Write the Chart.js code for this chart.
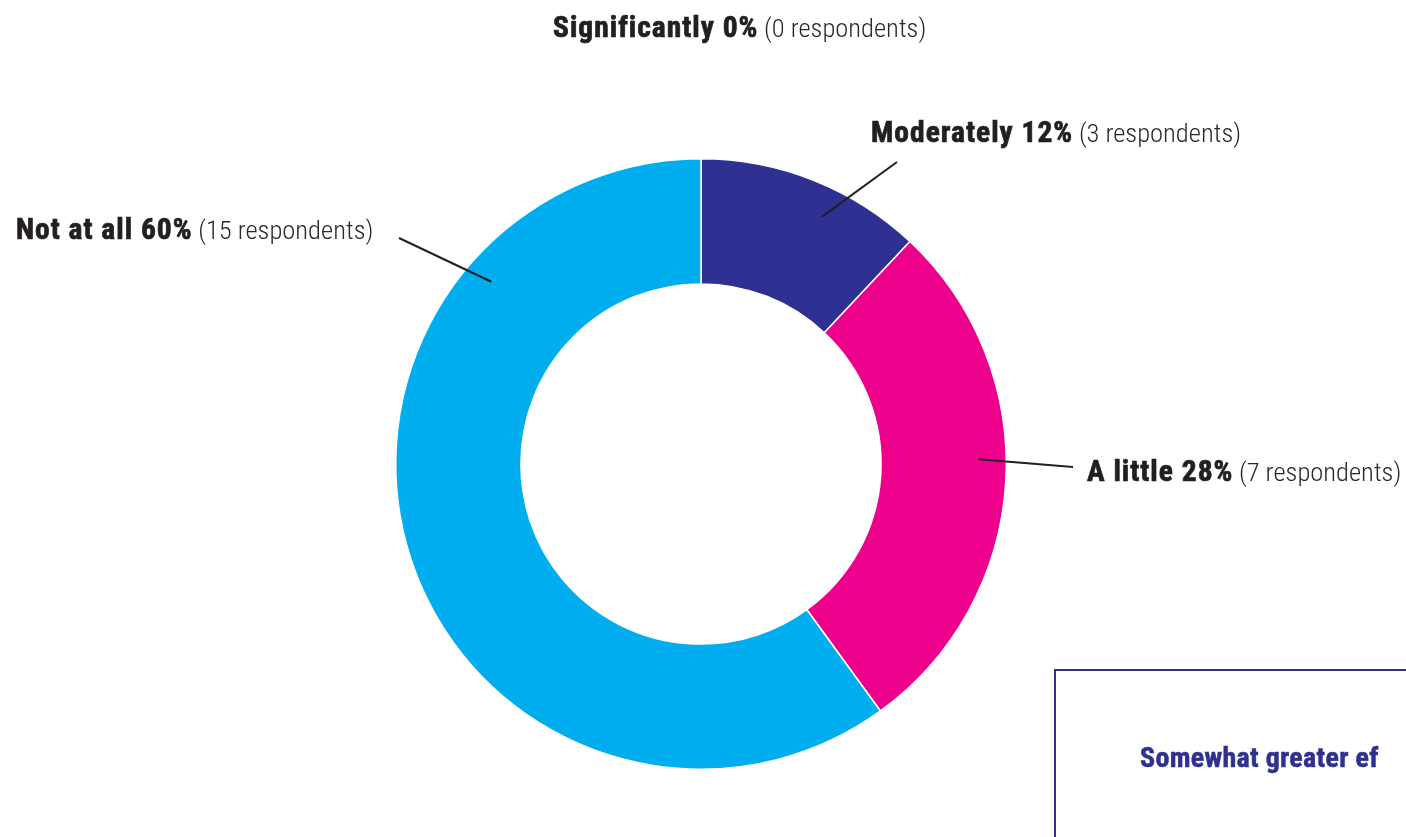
<!DOCTYPE html>
<html>
<head>
<meta charset="utf-8">
<script src="https://cdn.jsdelivr.net/npm/chart.js@4.4.0/dist/chart.umd.min.js"></script>
<style>
  html, body { margin: 0; padding: 0; background: #ffffff; }
  #wrap { position: relative; width: 1406px; height: 837px; overflow: hidden; }
  canvas { position: absolute; left: 0; top: 0; }
  .lbl { position: absolute; white-space: nowrap; color: #231F20;
         font-family: "Roboto Condensed", "Liberation Sans Narrow", "DejaVu Sans Condensed", "Liberation Sans", sans-serif;
         line-height: 1; font-size: 16px; }
  .lbl b { font-weight: 700; font-size: 29.5px; letter-spacing: 1px; -webkit-text-stroke: 0.7px #231F20; }
  .lbl span { font-weight: 300; font-size: 26.5px; color: #2b2728; margin-left: 2px; }
  #box { position: absolute; left: 1054px; top: 669px; width: 500px; height: 300px;
         border: 2px solid #2E3192; box-sizing: border-box; }
  #boxText { position: absolute; left: 1140px; top: 744px; white-space: nowrap; color: #2E3192;
         font-family: "Roboto Condensed", "Liberation Sans Narrow", "DejaVu Sans Condensed", "Liberation Sans", sans-serif;
         font-size: 28px; font-weight: 700; line-height: 1; letter-spacing: 0.3px; -webkit-text-stroke: 0.5px #2E3192; }
</style>
</head>
<body>
<div id="wrap">
  <canvas id="c" width="1406" height="837"></canvas>
  <div id="box"></div>
  <div id="boxText">Somewhat greater ef</div>
</div>
<script>
const categories = ["Significantly", "Moderately", "A little", "Not at all"];
const respondents = [0, 3, 7, 15];
const percents = [0, 12, 28, 60];
const colors = ["#2E3192", "#2E3192", "#EC008C", "#00AEEF"];

// label placement (annotation styling only)
const labelPos = [
  { left: 553, top: 13 },
  { left: 871, top: 118 },
  { left: 1087, top: 457 },
  { left: 16, top: 215 }
];
// leader lines: inner anchor angle (deg from top, clockwise), radius fraction, outer end
const leaders = [
  null,
  { angle: 26, rFrac: 0.90, end: [897, 162] },
  { angle: 89, rFrac: 0.91, end: [1073, 467] },
  { angle: -49, rFrac: 0.91, end: [399, 238] }
];

const wrap = document.getElementById('wrap');
categories.forEach((c, i) => {
  const d = document.createElement('div');
  d.className = 'lbl';
  d.style.left = labelPos[i].left + 'px';
  d.style.top = labelPos[i].top + 'px';
  d.innerHTML = '<b>' + c + ' ' + percents[i] + '%</b> <span>(' + respondents[i] + ' respondents)</span>';
  wrap.appendChild(d);
});

const leaderPlugin = {
  id: 'leaders',
  afterDatasetsDraw(chart) {
    const meta = chart.getDatasetMeta(0);
    const arc = meta.data[1];
    const cx = arc.x, cy = arc.y, R = arc.outerRadius;
    const ctx = chart.ctx;
    ctx.save();
    ctx.strokeStyle = '#231F20';
    ctx.lineWidth = 2;
    leaders.forEach(l => {
      if (!l) return;
      const a = l.angle * Math.PI / 180;
      const x = cx + Math.sin(a) * R * l.rFrac;
      const y = cy - Math.cos(a) * R * l.rFrac;
      ctx.beginPath();
      ctx.moveTo(x, y);
      ctx.lineTo(l.end[0], l.end[1]);
      ctx.stroke();
    });
    ctx.restore();
  }
};

new Chart(document.getElementById('c'), {
  type: 'doughnut',
  data: {
    labels: categories,
    datasets: [{
      data: respondents,
      backgroundColor: colors,
      borderColor: '#ffffff',
      borderWidth: 1.5
    }]
  },
  options: {
    responsive: false,
    animation: false,
    cutout: '59%',
    layout: { padding: { left: 395, right: 399, top: 158, bottom: 67 } },
    plugins: { legend: { display: false }, tooltip: { enabled: false }, title: { display: false } }
  },
  plugins: [leaderPlugin]
});
</script>
</body>
</html>
